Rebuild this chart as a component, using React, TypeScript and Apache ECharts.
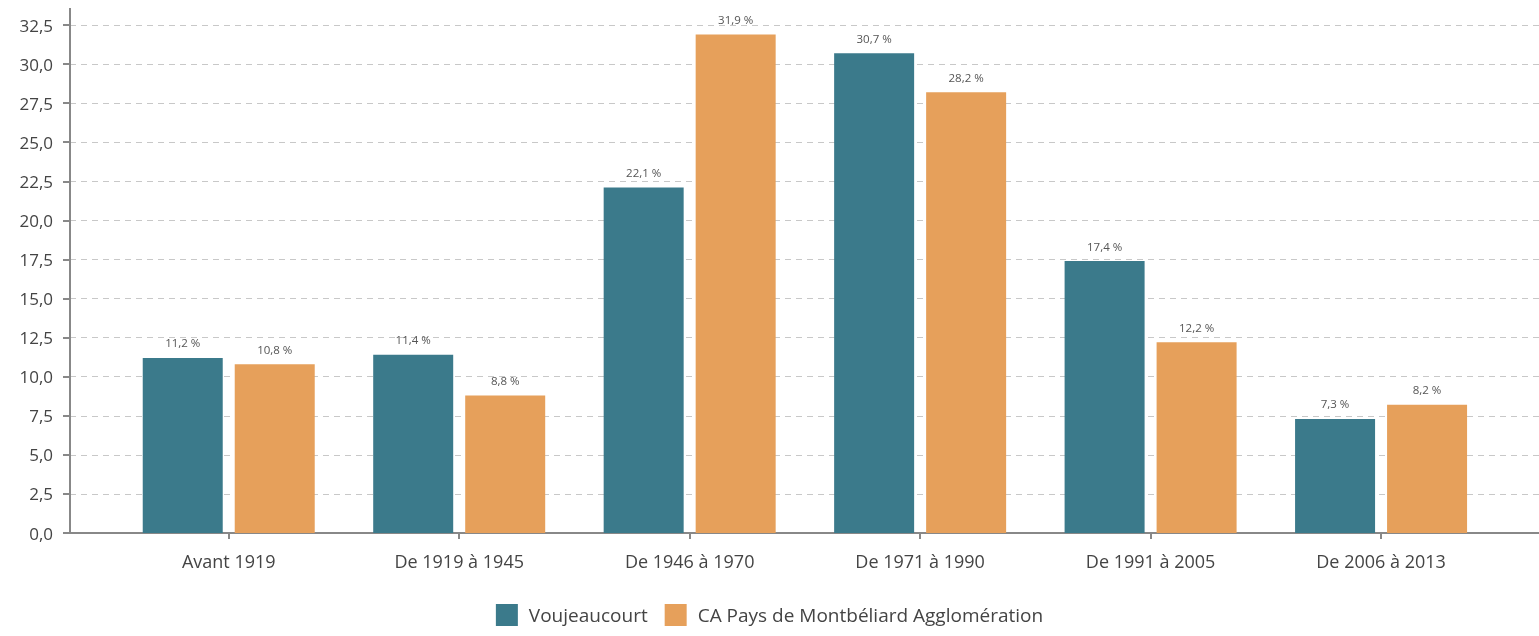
import React, { useEffect, useRef } from "react";
import * as echarts from "echarts";

const categories = ["Avant 1919", "De 1919 à 1945", "De 1946 à 1970", "De 1971 à 1990", "De 1991 à 2005", "De 2006 à 2013"];
const voujeaucourt = [11.2, 11.4, 22.1, 30.7, 17.4, 7.3];
const capma = [10.8, 8.8, 31.9, 28.2, 12.2, 8.2];
const seriesNames = ["Voujeaucourt", "CA Pays de Montbéliard Agglomération"];

const FONT = "'Open Sans', 'Noto Sans', sans-serif";
const fmt = (v: number) => v.toFixed(1).replace(".", ",");

export default function App() {
  const ref = useRef<HTMLDivElement>(null);
  useEffect(() => {
    if (!ref.current) return;
    const chart = echarts.init(ref.current, undefined, { renderer: "svg" });
    const barLabel = {
      show: true,
      position: "top",
      distance: 9,
      fontSize: 11.5,
      color: "#555",
      fontFamily: FONT,
      formatter: (p: any) => fmt(p.value) + " %",
    };
    chart.setOption({
      animation: false,
      textStyle: { fontFamily: FONT },
      legend: {
        top: 599,
        left: "center",
        itemWidth: 22,
        itemHeight: 22,
        itemGap: 17,
        icon: "rect",
        textStyle: { fontSize: 19, color: "#444", fontFamily: FONT, padding: [0, 0, 0, 6] },
        data: seriesNames,
      },
      grid: [
        { left: 70, right: 0, top: 25, bottom: 103 },
        { left: 113.5, right: 42.7, top: 25, bottom: 103 },
      ],
      xAxis: [
        {
          gridIndex: 0,
          type: "value",
          min: 0,
          max: 1,
          axisLine: { show: true, lineStyle: { color: "#888", width: 2 } },
          axisTick: { show: false },
          axisLabel: { show: false },
          splitLine: { show: false },
        },
        {
          gridIndex: 1,
          type: "category",
          data: categories,
          axisLine: { show: false },
          axisTick: { show: true, alignWithLabel: true, length: 6, lineStyle: { color: "#888", width: 2 } },
          axisLabel: { fontSize: 18, color: "#444", margin: 19, fontFamily: FONT },
        },
      ],
      yAxis: [
        {
          gridIndex: 0,
          type: "value",
          min: 0,
          max: 32.5,
          interval: 2.5,
          axisLine: { show: true, lineStyle: { color: "#888", width: 2 } },
          axisTick: { show: true, length: 7, lineStyle: { color: "#888", width: 2 } },
          axisLabel: { fontSize: 17, color: "#444", margin: 17, fontFamily: FONT, formatter: (v: number) => fmt(v) },
          splitLine: { show: true, lineStyle: { color: "#c8c8c8", type: [6, 5], width: 1 } },
        },
        {
          gridIndex: 1,
          type: "value",
          min: 0,
          max: 32.5,
          interval: 2.5,
          show: false,
          splitLine: { show: false },
        },
      ],
      graphic: [
        {
          type: "line",
          shape: { x1: 70, y1: 8, x2: 70, y2: 25 },
          style: { stroke: "#888", lineWidth: 2 },
        },
      ],
      series: [
        {
          name: seriesNames[0],
          type: "bar",
          xAxisIndex: 1,
          yAxisIndex: 1,
          data: voujeaucourt,
          barWidth: 80,
          barGap: "15%",
          itemStyle: { color: "#3b7a8b" },
          label: barLabel,
        },
        {
          name: seriesNames[1],
          type: "bar",
          xAxisIndex: 1,
          yAxisIndex: 1,
          data: capma,
          barWidth: 80,
          barGap: "15%",
          itemStyle: { color: "#e6a05b" },
          label: barLabel,
        },
      ],
    });
    return () => chart.dispose();
  }, []);
  return <div ref={ref} style={{ position: "fixed", left: 0, top: 0, width: 1539, height: 636 }} />;
}
